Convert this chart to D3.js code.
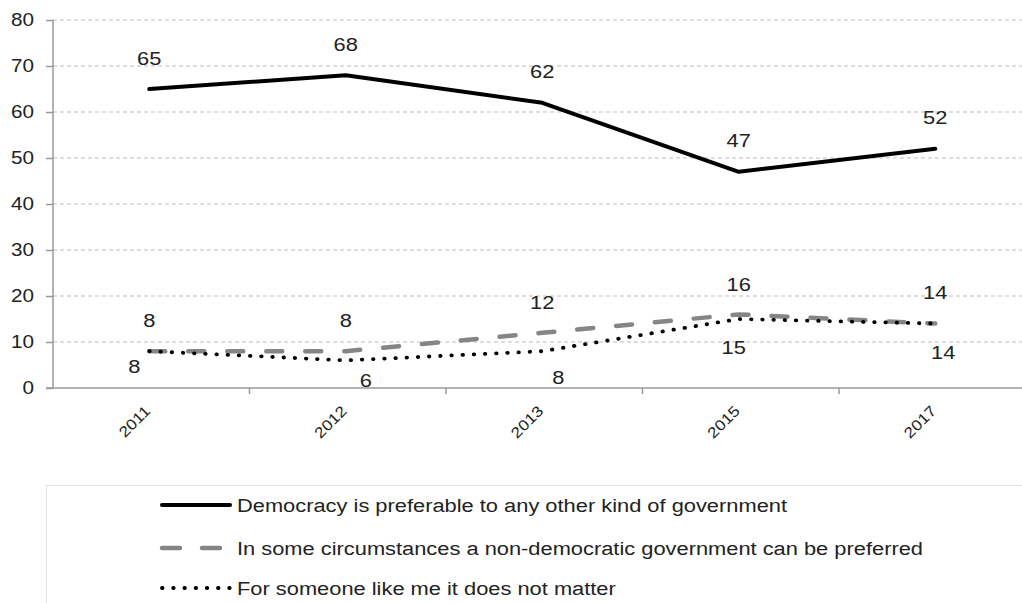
<!DOCTYPE html>
<html>
<head>
<meta charset="utf-8">
<script src="https://cdn.jsdelivr.net/npm/d3@7"></script>
<style>
  body { margin: 0; background: #fff; }
  text { font-family: "Liberation Sans", Arial, sans-serif; fill: #222; }
</style>
</head>
<body>
<svg id="chart"></svg>
<script>
// Data
const years = ['2011', '2012', '2013', '2015', '2017'];
const democracyPreferable = [65, 68, 62, 47, 52];
const nonDemocraticPreferred = [8, 8, 12, 16, 14];
const doesNotMatter = [8, 6, 8, 15, 14];
const yTicks = [0, 10, 20, 30, 40, 50, 60, 70, 80];
const seriesNames = [
  'Democracy is preferable to any other kind of government',
  'In some circumstances a non-democratic government can be preferred',
  'For someone like me it does not matter'
];

// Label nudges (layout only): [dx, dy] relative to the point
const labelNudge = [
  [[0, -31], [0, -31], [0, -31], [0, -31], [0, -31]],
  [[0, -31], [0, -31], [0, -30], [0, -30], [0, -31]],
  [[-15, 15], [20, 20], [16, 26], [-5, 28], [8, 29]]
];

const width = 1022, height = 603;
const margin = {top: 20, left: 53};
const stretch = 1.15; // the source font is a bit wider than Liberation Sans

const svg = d3.select('#chart')
    .attr('width', width)
    .attr('height', height);

// Scales
const xScale = d3.scaleBand()
    .domain(years)
    .range([margin.left, margin.left + 5 * 196.5]);

const yScale = d3.scaleLinear()
    .domain([0, 80])
    .range([388, margin.top]);

const xPos = d => xScale(d) + xScale.bandwidth() / 2 - 2;

// Gridlines
svg.append('g')
  .selectAll('line')
  .data(yTicks.filter(d => d > 0))
  .join('line')
    .attr('x1', margin.left)
    .attr('x2', width)
    .attr('y1', d => yScale(d))
    .attr('y2', d => yScale(d))
    .attr('stroke', '#bdbdbd')
    .attr('stroke-width', 1)
    .attr('stroke-dasharray', '4,3');

// Y axis
const yAxis = d3.axisLeft(yScale)
    .tickValues(yTicks)
    .tickSize(7)
    .tickFormat('');

const yAxisG = svg.append('g')
    .attr('transform', `translate(${margin.left},0)`)
    .call(yAxis);
yAxisG.selectAll('path, line').attr('stroke', '#999').attr('stroke-width', 1.5);
yAxisG.select('.domain').attr('d', `M0,${yScale(80)}V${yScale(0)}`);

svg.append('g')
  .selectAll('text')
  .data(yTicks)
  .join('text')
    .attr('text-anchor', 'end')
    .attr('dy', '0.35em')
    .attr('transform', d => `translate(34,${yScale(d)}) scale(${stretch},1)`)
    .style('font-size', '18px')
    .text(d => d);

// X axis with ticks at category boundaries
const xAxisG = svg.append('g')
    .attr('transform', `translate(0,${yScale(0)})`);
xAxisG.append('line')
    .attr('x1', margin.left - 7)
    .attr('x2', width)
    .attr('stroke', '#999')
    .attr('stroke-width', 1.5);
xAxisG.selectAll('.bound')
  .data(years.slice(1))
  .join('line')
    .attr('class', 'bound')
    .attr('x1', d => xScale(d))
    .attr('x2', d => xScale(d))
    .attr('y1', 0)
    .attr('y2', 6)
    .attr('stroke', '#999')
    .attr('stroke-width', 1.5);
xAxisG.selectAll('.year')
  .data(years)
  .join('text')
    .attr('class', 'year')
    .attr('text-anchor', 'end')
    .attr('transform', d => `translate(${xPos(d) + 2},${24}) rotate(-45) scale(${stretch},1)`)
    .style('font-size', '15px')
    .text(d => d);

// Lines
const series = [
  {values: democracyPreferable, color: '#000', dash: null, width: 4, cap: 'round'},
  {values: nonDemocraticPreferred, color: '#858585', dash: '16,23', width: 4.5, cap: 'round'},
  {values: doesNotMatter, color: '#000', dash: '0.5,10.7', width: 3.8, cap: 'round'}
];

const line = d3.line()
    .x((d, i) => xPos(years[i]))
    .y(d => yScale(d));

svg.append('g')
  .selectAll('path')
  .data(series)
  .join('path')
    .attr('d', d => line(d.values))
    .attr('fill', 'none')
    .attr('stroke', d => d.color)
    .attr('stroke-width', d => d.width)
    .attr('stroke-linecap', d => d.cap)
    .attr('stroke-linejoin', 'round')
    .attr('stroke-dasharray', d => d.dash);

// Data labels
series.forEach((s, si) => {
  svg.append('g')
    .selectAll('text')
    .data(s.values)
    .join('text')
      .attr('transform', (d, i) =>
        `translate(${xPos(years[i]) + labelNudge[si][i][0]},${yScale(d) + labelNudge[si][i][1]}) scale(${stretch},1)`)
      .attr('dy', '0.35em')
      .attr('text-anchor', 'middle')
      .style('font-size', '19px')
      .text(d => d);
});

// Legend
const legend = svg.append('g');
legend.append('rect')
    .attr('x', 46.5)
    .attr('y', 485.5)
    .attr('width', 1000)
    .attr('height', 200)
    .attr('fill', 'none')
    .attr('stroke', '#e4e4e4');

const legendRows = [505, 548, 588];
const legendItems = legend.selectAll('.item')
  .data(series)
  .join('g')
    .attr('class', 'item')
    .attr('transform', (d, i) => `translate(0,${legendRows[i]})`);

legendItems.append('line')
    .attr('x1', 162)
    .attr('x2', 230)
    .attr('stroke', d => d.color)
    .attr('stroke-width', d => d.width)
    .attr('stroke-linecap', d => d.cap)
    .attr('stroke-dasharray', (d, i) => i === 1 ? '18,22' : d.dash);

legendItems.append('text')
    .attr('transform', `translate(237,0) scale(${stretch},1)`)
    .attr('dy', '0.35em')
    .style('font-size', '19px')
    .text((d, i) => seriesNames[i]);
</script>
</body>
</html>
